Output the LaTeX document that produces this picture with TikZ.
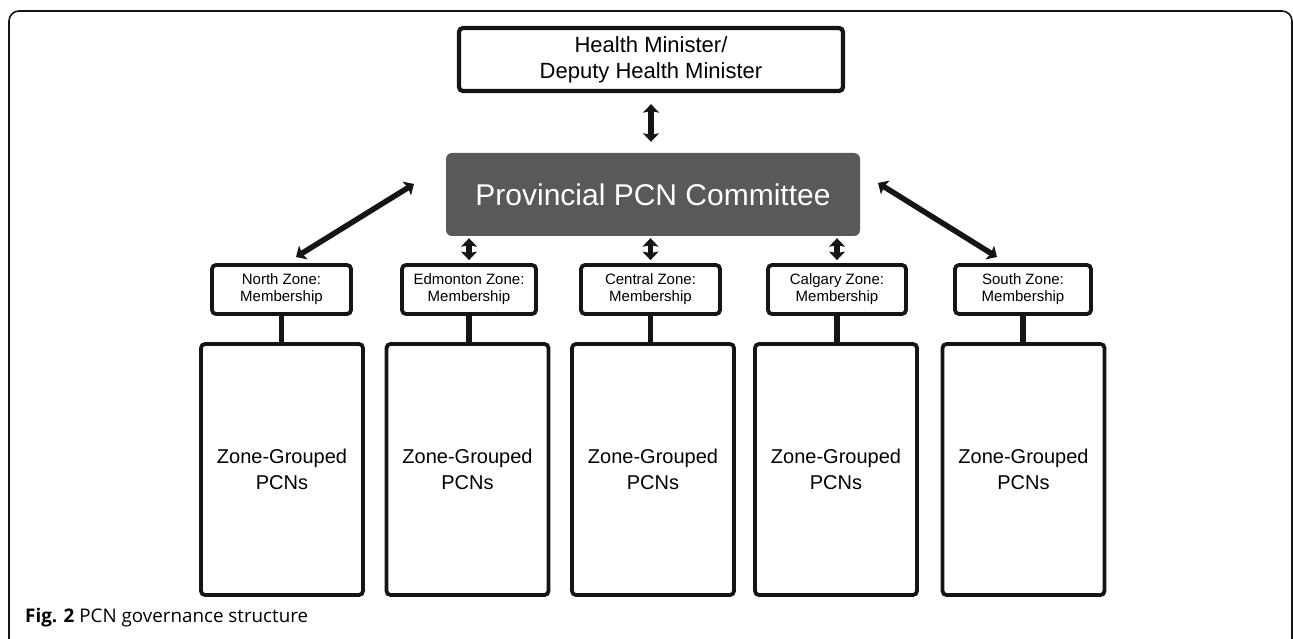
\documentclass[tikz,border=0pt]{standalone}
\usepackage{fontspec}
\setmainfont{Liberation Sans}
\newfontfamily\capfont{Open Sans}
\usetikzlibrary{arrows.meta}
\definecolor{provgray}{HTML}{58595B}
\definecolor{ink}{HTML}{151515}
\begin{document}
\begin{tikzpicture}[x=1pt,y=-1pt,
  plainbox/.style={draw=ink, fill=white, rounded corners=4pt, align=center, inner sep=0pt},
  topbox/.style={plainbox, line width=4.2pt, minimum width=384pt, minimum height=63pt,
     font=\fontsize{22pt}{25.7pt}\selectfont},
  provbox/.style={fill=provgray, rounded corners=6pt, minimum width=414pt, minimum height=83pt,
     text=white, inner sep=0pt, font=\fontsize{30pt}{34pt}\selectfont},
  zonebox/.style={plainbox, line width=3.8pt, minimum height=49pt,
     font=\fontsize{15pt}{17pt}\selectfont},
  pcnbox/.style={plainbox, line width=3.8pt, minimum width=162pt, minimum height=251pt,
     font=\fontsize{20pt}{26pt}\selectfont},
  link/.style={draw=ink, line width=5.5pt},
  dblarrow/.style={draw=ink, line width=5.5pt,
     {Stealth[width=16pt,length=8.5pt,inset=1.5pt]}-{Stealth[width=16pt,length=8.5pt,inset=1.5pt]}},
]
\useasboundingbox (0,0) rectangle (1293,639);
% outer frame (open at bottom)
\draw[ink, line width=1.6pt, rounded corners=10pt] (9,639) -- (9,11) -- (1292,11) -- (1292,639);

\node[topbox] (top) at (651,59.5) {Health Minister/\\Deputy Health Minister};
\node[provbox] (prov) at (653,194.5) {Provincial PCN Committee};

\node[zonebox, minimum width=139pt] (z1) at (281.5,289.5) {North Zone:\\Membership};
\node[zonebox, minimum width=134pt] (z2) at (469,289.5) {Edmonton Zone:\\Membership};
\node[zonebox, minimum width=139pt] (z3) at (650.5,289.5) {Central Zone:\\Membership};
\node[zonebox, minimum width=138pt] (z4) at (837,289.5) {Calgary Zone:\\Membership};
\node[zonebox, minimum width=136pt] (z5) at (1023,289.5) {South Zone:\\Membership};

\node[pcnbox] (b1) at (282,469.5) {Zone-Grouped\\PCNs};
\node[pcnbox] (b2) at (467.5,469.5) {Zone-Grouped\\PCNs};
\node[pcnbox] (b3) at (653,469.5) {Zone-Grouped\\PCNs};
\node[pcnbox] (b4) at (836,469.5) {Zone-Grouped\\PCNs};
\node[pcnbox] (b5) at (1023.5,469.5) {Zone-Grouped\\PCNs};

\foreach \i in {1,...,5}{
  \draw[link] (z\i.south) -- (z\i.south |- b\i.north);
}

% arrows
\draw[dblarrow, shorten <=11pt, shorten >=11pt] (top.south) -- (top.south |- prov.north);
\draw[dblarrow, shorten <=2pt, shorten >=3pt] (z2.north |- prov.south) -- (z2.north);
\draw[dblarrow, shorten <=2pt, shorten >=3pt] (z3.north |- prov.south) -- (z3.north);
\draw[dblarrow, shorten <=2pt, shorten >=3pt] (z4.north |- prov.south) -- (z4.north);

\coordinate (la) at (414,184);
\coordinate (lb) at (296,257);
\coordinate (ra) at (878,183);
\coordinate (rb) at (997,257);
\draw[dblarrow] (la) -- (lb);
\draw[dblarrow] (ra) -- (rb);

\node[anchor=base west, inner sep=0pt, font=\capfont\fontsize{18.8pt}{22pt}\selectfont] (cap) at (25,622)
  {\textbf{Fig. 2} PCN governance structure};
\end{tikzpicture}
\end{document}
